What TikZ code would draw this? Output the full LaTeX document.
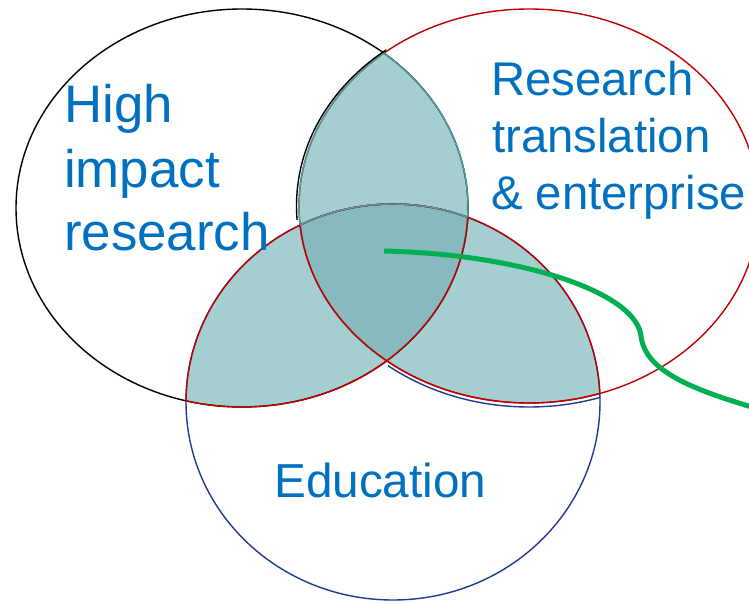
\documentclass[tikz,border=0pt]{standalone}
\usepackage{fontspec}
\setmainfont{Liberation Sans}
\definecolor{txtblue}{HTML}{0070C0}
\definecolor{vred}{HTML}{C00000}
\definecolor{vblue}{HTML}{1F3A93}
\definecolor{vteal}{HTML}{4F9CA2}
\definecolor{lensfill}{HTML}{A5CED1}
\definecolor{corefill}{HTML}{88B9BE}
\definecolor{vgreen}{HTML}{00B050}
\def\VenL{(242,208) ellipse [x radius=226pt, y radius=199pt]}
\def\VenR{(529,206) ellipse [x radius=230pt, y radius=197pt]}
\def\VenB{(393,402) ellipse [x radius=207pt, y radius=198pt]}
\begin{document}
\begin{tikzpicture}[x=1pt,y=-1pt,
  rim/.style={line width=1.4pt},
  lbl/.style={text=txtblue, inner sep=0pt, anchor=base west},
  big/.style={font=\fontsize{52.8}{63}\selectfont},
  mid/.style={font=\fontsize{47.3}{56}\selectfont},
  edu/.style={font=\fontsize{47.7}{57}\selectfont}]
\useasboundingbox (0,0) rectangle (749,604);
\fill[white] (0,0) rectangle (749,604);
% fills
\begin{scope}\clip \VenL; \fill[lensfill] \VenR; \fill[lensfill] \VenB; \end{scope}
\begin{scope}\clip \VenR; \fill[lensfill] \VenB; \end{scope}
\begin{scope}\clip \VenL; \clip \VenR; \fill[corefill] \VenB; \end{scope}
% outlines
\draw[rim, black] \VenL;
\draw[rim, vred] \VenR;
\draw[rim, vblue] \VenB;
% blue offset line below lower-right lens
\begin{scope}\clip (388,330) rectangle (600,412);
  \draw[rim, vblue] (529,210) ellipse [x radius=230pt, y radius=197pt];
\end{scope}
% upper lens outline
\begin{scope}\clip \VenR; \draw[rim, vteal] \VenL; \end{scope}
\begin{scope}\clip \VenL; \draw[rim, vteal] \VenR; \end{scope}
\begin{scope}\clip (0,0) rectangle (386,219);
  \draw[rim, black] (526.5,206) ellipse [x radius=230pt, y radius=197pt];
\end{scope}
% red outlines of lower lenses
\begin{scope}\clip \VenB; \draw[rim, vred] \VenL; \draw[rim, vred] \VenR; \end{scope}
\begin{scope}\clip \VenL; \draw[rim, vred] \VenB; \end{scope}
\begin{scope}\clip \VenR; \draw[rim, vred] \VenB; \end{scope}
\begin{scope}\clip \VenL; \clip \VenR; \draw[rim, vteal] \VenB; \end{scope}
% green curve
\coordinate (gs) at (384,251);
\coordinate (gm) at (641,336);
\coordinate (ge) at (755,408);
\draw[vgreen, line width=5pt] (gs) .. controls (520,254) and (636,292) .. (gm)
  .. controls (645,372) and (695,390) .. (ge);
% labels
\node[lbl, big] (hi1) at (64,123) {High};
\node[lbl, big] (hi2) at (64,187) {impact};
\node[lbl, big] (hi3) at (64,250) {research};
\node[lbl, mid] (rt1) at (491,96) {Research};
\node[lbl, mid] (rt2) at (492,153) {translation};
\node[lbl, mid] (rt3) at (491,209) {\& enterprise};
\node[lbl, edu] (ed) at (274,497) {Education};
\end{tikzpicture}
\end{document}
